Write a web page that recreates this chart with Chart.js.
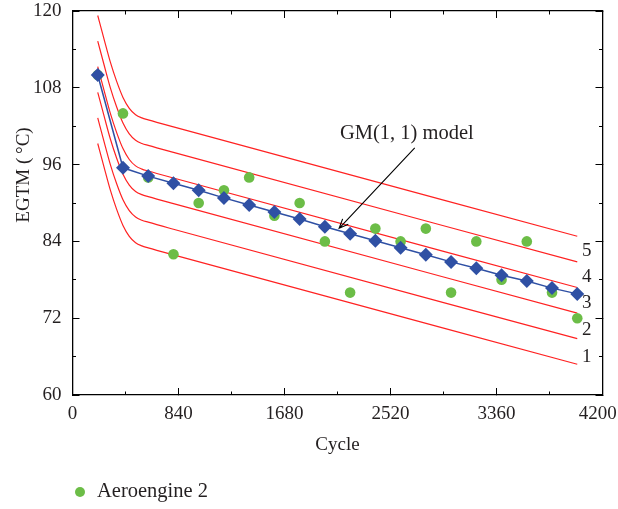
<!DOCTYPE html>
<html>
<head>
<meta charset="utf-8">
<title>EGTM vs cycle</title>
<script src="https://cdn.jsdelivr.net/npm/chart.js"></script>
<style>
    html, body { margin: 0; padding: 0; background: #fff; }
</style>
</head>
<body>
<canvas id="chart" width="618" height="509"></canvas>
<script>
// measured EGTM of engine 2 and the GM(1,1) fit
const cycles = [200, 400, 600, 800, 1000, 1200, 1400, 1600, 1800, 2000, 2200, 2400, 2600, 2800, 3000, 3200, 3400, 3600, 3800, 4000];
const measuredEgtm = [110, 104, 94, 82, 90, 92, 94, 88, 90, 84, 76, 86, 84, 86, 76, 84, 78, 84, 76, 72];
const modelEgtm = [110, 95.5, 94.2, 93.1, 92.0, 90.8, 89.7, 88.6, 87.5, 86.3, 85.2, 84.1, 83.0, 81.9, 80.8, 79.8, 78.7, 77.8, 76.7, 75.8];

// red band boundaries, bottom to top
const edgeCycles = [200, 250, 300, 350, 400, 450, 500, 550, 600, 800, 4000];
const edge1 = [99.3, 95.6, 92.0, 89.0, 86.5, 84.8, 83.8, 83.3, 83.0, 81.9, 64.8];
const edge2 = [103.3, 99.6, 96.0, 93.0, 90.5, 88.8, 87.8, 87.3, 87.0, 85.9, 68.8];
const edge3 = [107.3, 103.6, 100.0, 97.0, 94.5, 92.8, 91.8, 91.3, 91.0, 89.9, 72.8];
const edge4 = [111.3, 107.6, 104.0, 101.0, 98.5, 96.8, 95.8, 95.3, 95.0, 93.9, 76.8];
const edge5 = [115.3, 111.6, 108.0, 105.0, 102.5, 100.8, 99.8, 99.3, 99.0, 97.9, 80.8];
const edge6 = [119.3, 115.6, 112.0, 109.0, 106.5, 104.8, 103.8, 103.3, 103.0, 101.9, 84.8];
const bandNames = ['1', '2', '3', '4', '5'];

const xTicks = [0, 840, 1680, 2520, 3360, 4200];
const yTicks = [60, 72, 84, 96, 108, 120];

const serif = '"Liberation Serif", "Times New Roman", serif';
const ink = '#231f20';
Chart.defaults.font.family = serif;
Chart.defaults.font.size = 19;
Chart.defaults.color = ink;

const pts = (xs, ys) => xs.map((v, i) => ({x: v, y: ys[i]}));

const edgeSet = (values) => ({
    data: pts(edgeCycles, values),
    showLine: true,
    borderColor: '#ff2222',
    borderWidth: 1.2,
    pointRadius: 0,
    cubicInterpolationMode: 'monotone',
    order: 2
});

// frame axes: no labels, short inward ticks
function frameAxis(position, min, max, step, len, border) {
    const horiz = position === 'top' || position === 'bottom';
    return {
        type: 'linear', position: position, min: min, max: max, weight: 0,
        ticks: {display: false, stepSize: step},
        grid: {drawOnChartArea: false, tickLength: -len, tickColor: '#000', tickWidth: 1},
        border: {display: border, color: '#000', width: 1.3},
        afterFit(s) {
            if (horiz) s.height = 0; else s.width = 0;
            s.paddingLeft = s.paddingRight = s.paddingTop = s.paddingBottom = 0;
        }
    };
}

const decorations = {
    id: 'decorations',
    afterDraw(chart) {
        const {ctx, chartArea} = chart;
        const x = chart.scales.x, y = chart.scales.y;
        ctx.save();
        ctx.fillStyle = ink;
        ctx.font = '19px ' + serif;
        ctx.textAlign = 'center';
        ctx.textBaseline = 'middle';

        // band numbers beside the right ends
        const nameAt = [66.0, 70.2, 74.3, 78.5, 82.5];
        bandNames.forEach((n, i) => ctx.fillText(n, x.getPixelForValue(4075), y.getPixelForValue(nameAt[i])));

        // callout for the model curve
        ctx.font = '20.5px ' + serif;
        ctx.fillText('GM(1, 1) model', x.getPixelForValue(2650), y.getPixelForValue(100.8));
        const x0 = x.getPixelForValue(2712), y0 = y.getPixelForValue(98.6);
        const x1 = x.getPixelForValue(2113), y1 = y.getPixelForValue(86.05);
        const ang = Math.atan2(y1 - y0, x1 - x0);
        ctx.strokeStyle = '#000';
        ctx.lineWidth = 1.1;
        ctx.beginPath();
        ctx.moveTo(x0, y0);
        ctx.lineTo(x1, y1);
        ctx.moveTo(x1 - 10 * Math.cos(ang - 0.4), y1 - 10 * Math.sin(ang - 0.4));
        ctx.lineTo(x1, y1);
        ctx.lineTo(x1 - 10 * Math.cos(ang + 0.4), y1 - 10 * Math.sin(ang + 0.4));
        ctx.stroke();

        // y axis title
        ctx.font = '19px ' + serif;
        ctx.save();
        ctx.translate(24, chartArea.top + 164);
        ctx.rotate(-Math.PI / 2);
        ctx.fillText('EGTM (\u2009°C)', 0, 0);
        ctx.restore();

        // legend entry for the measured points
        const ds = chart.data.datasets[1];
        ctx.fillStyle = ds.backgroundColor;
        ctx.beginPath();
        ctx.arc(80, 492, 5, 0, Math.PI * 2);
        ctx.fill();
        ctx.fillStyle = ink;
        ctx.textAlign = 'left';
        ctx.font = '20.5px ' + serif;
        ctx.fillText(ds.label, 97, 492);
        ctx.restore();
    }
};

new Chart(document.getElementById('chart'), {
    type: 'scatter',
    data: {
        datasets: [
            {
                label: 'GM(1, 1) model',
                data: pts(cycles, modelEgtm),
                showLine: true,
                borderColor: '#2f50a4',
                borderWidth: 1.5,
                pointStyle: 'rectRot',
                pointRadius: 7,
                pointBackgroundColor: '#2f50a4',
                pointBorderWidth: 0,
                order: 0
            },
            {
                label: 'Aeroengine 2',
                data: pts(cycles, measuredEgtm),
                backgroundColor: '#6cbd47',
                borderWidth: 0,
                pointRadius: 5.3,
                order: 1
            },
            edgeSet(edge1), edgeSet(edge2), edgeSet(edge3),
            edgeSet(edge4), edgeSet(edge5), edgeSet(edge6)
        ]
    },
    options: {
        responsive: false,
        devicePixelRatio: 1,
        animation: false,
        layout: {padding: {left: 0, right: 15.5, top: 11, bottom: 0}},
        plugins: {legend: {display: false}, tooltip: {enabled: false}},
        events: [],
        scales: {
            x: {
                type: 'linear', position: 'bottom', min: 0, max: 4200, weight: 1,
                afterBuildTicks(s) { s.ticks = xTicks.map(v => ({value: v})); },
                ticks: {
                    padding: 15, color: ink,
                    // last label kept inside the canvas edge
                    callback: v => v === 4200 ? '4200\u2002' : String(v)
                },
                grid: {drawOnChartArea: false, tickLength: -7, tickColor: '#000', tickWidth: 1},
                border: {color: '#000', width: 1.3},
                title: {display: true, text: 'Cycle', color: ink, padding: {top: 0, bottom: 53}},
                afterFit(s) { s.height = 114; s.paddingLeft = 0; s.paddingRight = 0; }
            },
            y: {
                type: 'linear', position: 'left', min: 60, max: 120, weight: 1,
                afterBuildTicks(s) { s.ticks = yTicks.map(v => ({value: v})); },
                ticks: {padding: 18, color: ink},
                grid: {drawOnChartArea: false, tickLength: -7, tickColor: '#000', tickWidth: 1},
                border: {color: '#000', width: 1.3},
                afterFit(s) { s.width = 72.5; s.paddingTop = 0; s.paddingBottom = 0; }
            },
            xMinor: frameAxis('bottom', 0, 4200, 420, 3.5, false),
            xTop: frameAxis('top', 0, 4200, 840, 7, true),
            xTopMinor: frameAxis('top', 0, 4200, 420, 3.5, false),
            yMinor: frameAxis('left', 60, 120, 6, 3.5, false),
            yRight: frameAxis('right', 60, 120, 12, 7, true),
            yRightMinor: frameAxis('right', 60, 120, 6, 3.5, false)
        }
    },
    plugins: [decorations]
});
</script>
</body>
</html>
